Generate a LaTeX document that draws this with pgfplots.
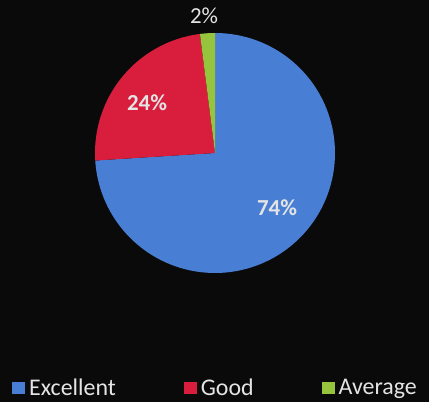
\documentclass[border=0pt]{standalone}
\usepackage{fontspec}
\setmainfont{Carlito}
\usepackage{pgfplots}
\usepackage{pgfplotstable}
\pgfplotsset{compat=1.18}
\definecolor{pblue}{RGB}{72,126,212}
\definecolor{pred}{RGB}{216,30,60}
\definecolor{pgreen}{RGB}{150,196,60}
\definecolor{bg}{RGB}{10,10,10}
\definecolor{txt}{RGB}{228,228,228}
\pgfplotstableread{
label value
Excellent 74
Good 24
Average 2
}\piedata
\begin{document}
\begin{tikzpicture}
\pgfplotstablegetelem{0}{value}\of\piedata \let\vE\pgfplotsretval
\pgfplotstablegetelem{1}{value}\of\piedata \let\vG\pgfplotsretval
\pgfplotstablegetelem{2}{value}\of\piedata \let\vA\pgfplotsretval
\def\cx{215}\def\cy{249}\def\pr{120}
\pgfmathsetmacro{\aA}{90}
\pgfmathsetmacro{\aB}{\aA-3.6*\vE}
\pgfmathsetmacro{\aC}{\aB-3.6*\vG}
\pgfmathsetmacro{\aD}{\aC-3.6*\vA}
\begin{axis}[x=1bp,y=1bp,xmin=0,xmax=429,ymin=0,ymax=402,
  hide axis, clip=false,
  legend columns=3,
  legend image code/.code={\fill[#1,draw=none] (0bp,-6bp) rectangle (13bp,6bp);},
  legend style={at={(axis cs:215.5,14)},anchor=center,draw=none,fill=none,
    text=txt,font=\fontsize{24}{27}\selectfont,
    /tikz/every even column/.append style={column sep=66bp},
    /tikz/every odd column/.append style={column sep=2bp}},
]
\fill[bg] (axis cs:0,0) rectangle (axis cs:429,402);
\addplot[fill=pblue,draw=none,domain=\aB:\aA,samples=150,variable=\t]
  ({\cx+\pr*cos(\t)},{\cy+\pr*sin(\t)}) -- (axis cs:\cx,\cy) -- cycle;
\addlegendentry{Excellent}
\addplot[fill=pred,draw=none,domain=\aC:\aB,samples=80,variable=\t]
  ({\cx+\pr*cos(\t)},{\cy+\pr*sin(\t)}) -- (axis cs:\cx,\cy) -- cycle;
\addlegendentry{Good}
\addplot[fill=pgreen,draw=none,domain=\aD:\aC,samples=20,variable=\t]
  ({\cx+\pr*cos(\t)},{\cy+\pr*sin(\t)}) -- (axis cs:\cx,\cy) -- cycle;
\addlegendentry{Average}
\node[text=txt,font=\fontsize{23}{26}\selectfont\bfseries] at (axis cs:277,194) {74\%};
\node[text=txt,font=\fontsize{23}{26}\selectfont\bfseries] at (axis cs:147,299) {24\%};
\node[text=txt,font=\fontsize{23}{26}\selectfont] at (axis cs:204,386) {2\%};
\end{axis}
\end{tikzpicture}
\end{document}
